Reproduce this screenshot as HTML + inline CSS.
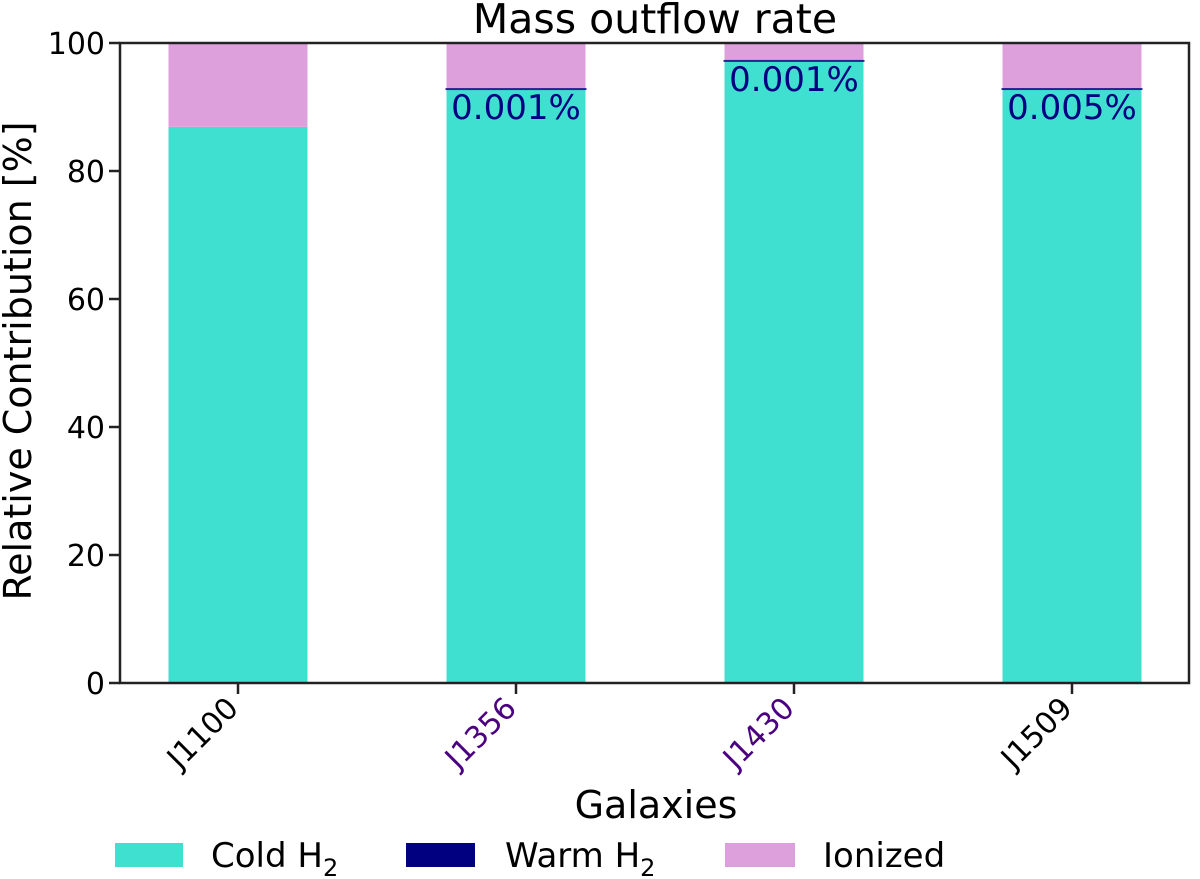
<!DOCTYPE html>
<html><head><meta charset="utf-8"><style>
body{margin:0;background:#fff}
svg{display:block;font-family:"DejaVu Sans","Liberation Sans",sans-serif}
</style></head><body>
<svg id="chart" width="1200" height="879" viewBox="0 0 1200 879" xmlns="http://www.w3.org/2000/svg">
<text x="655" y="33" font-size="41" text-anchor="middle">Mass outflow rate</text>
<g id="bars"></g>
<g id="axes"></g>
<text transform="translate(31,361) rotate(-90)" font-size="38" text-anchor="middle">Relative Contribution [%]</text>
<text x="656" y="818" font-size="38" text-anchor="middle">Galaxies</text>
<g>
<rect x="115" y="843" width="68" height="24" fill="#40e0d0"/>
<text x="211" y="867" font-size="34">Cold H<tspan font-size="24" dy="9">2</tspan></text>
<rect x="406" y="843" width="69" height="24" fill="#000080"/>
<text x="505" y="867" font-size="34">Warm H<tspan font-size="24" dy="9">2</tspan></text>
<rect x="725" y="843" width="70" height="24" fill="#dda0dd"/>
<text x="823" y="867" font-size="34">Ionized</text>
</g>
</svg>
<script>
const categories=["J1100","J1356","J1430","J1509"];
const coldValues=[86.9,92.8,97.2,92.8];
const warmValues=[0,0.001,0.001,0.005];
const warmLabels=["","0.001%","0.001%","0.005%"];
const labelColors=["#000","#4b0082","#4b0082","#000"];
const yTicks=[0,20,40,60,80,100];

const NS="http://www.w3.org/2000/svg";
const x0=120,x1=1189,y0=683,y1=43;
const xScale=i=>238+278*i;
const yScale=v=>y0-(v/100)*(y0-y1);
const bw=139;
const bars=document.getElementById('bars'),axes=document.getElementById('axes');
function mk(tag,attrs,parent){const e=document.createElementNS(NS,tag);for(const k in attrs)e.setAttribute(k,attrs[k]);parent.appendChild(e);return e;}
categories.forEach((c,i)=>{
  const cx=xScale(i),c0=coldValues[i],w=warmValues[i];
  const r1=mk('rect',{x:cx-bw/2,y:yScale(c0),width:bw,height:yScale(0)-yScale(c0),fill:'#40e0d0'},bars);
  
  
  const top=c0+w;
  const r3=mk('rect',{x:cx-bw/2,y:yScale(100),width:bw,height:yScale(top)-yScale(100),fill:'#dda0dd'},bars);
  
  
  if(w>0){
    const r2=mk('rect',{x:cx-bw/2-1,y:yScale(top)-1,width:bw+2,height:Math.max(2,yScale(c0)-yScale(top)),fill:'#000080',opacity:0.8},bars);
    
    
    const t=mk('text',{x:cx,y:yScale(c0)+30,'font-size':34,'text-anchor':'middle',fill:'#000080'},bars);
    t.textContent=warmLabels[i];
    
    
  }
  const tk=mk('line',{x1:cx,x2:cx,y1:y0,y2:y0+11,stroke:'#222','stroke-width':2.5},axes);
  
  
  const tl=mk('text',{transform:`translate(${cx+2},${y0+27}) rotate(-45)`,'font-size':30,'text-anchor':'end',fill:labelColors[i]},axes);
  tl.textContent=c;
  
  
});
yTicks.forEach(v=>{
  const y=yScale(v);
  const tk=mk('line',{x1:x0-11,x2:x0,y1:y,y2:y,stroke:'#222','stroke-width':2.5},axes);
  
  
  const tl=mk('text',{x:x0-15,y:y+11,'font-size':30,'text-anchor':'end'},axes);
  tl.textContent=v;
  
  
});
const fr=mk('rect',{x:x0,y:y1,width:x1-x0,height:y0-y1,fill:'none',stroke:'#222','stroke-width':2.5},axes);


</script>
</body></html>
